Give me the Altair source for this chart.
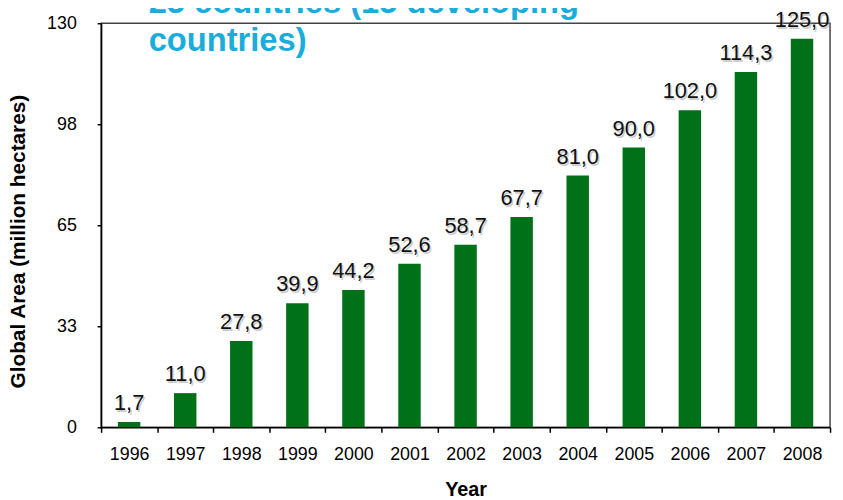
import altair as alt
import pandas as pd

years = ["1996", "1997", "1998", "1999", "2000", "2001", "2002",
         "2003", "2004", "2005", "2006", "2007", "2008"]
areas = [1.7, 11.0, 27.8, 39.9, 44.2, 52.6, 58.7, 67.7, 81.0, 90.0, 102.0, 114.3, 125.0]
y_ticks = [0, 32.5, 65, 97.5, 130]
title_lines = ["25 countries (15 developing", "countries)"]

df = pd.DataFrame({"year": years, "area": areas})

FONT = "Liberation Sans"

x = alt.X("year:N", sort=years, title="Year",
          scale=alt.Scale(paddingInner=0, paddingOuter=0),
          axis=alt.Axis(labelAngle=0, tickBand="extent", tickSize=5, labelPadding=14,
                        labelFontSize=18, labelColor="#000", labelFont=FONT,
                        titleFontSize=20, titleFont=FONT, titleFontWeight="bold",
                        titleY=69, titleBaseline="alphabetic",
                        domainColor="#000", tickColor="#000",
                        domainWidth=1.5, tickWidth=1.5))
y = alt.Y("area:Q", title="Global Area (million hectares)",
          scale=alt.Scale(domain=[0, 130], nice=False),
          axis=alt.Axis(values=y_ticks, format=".0f", grid=False, tickSize=4, labelPadding=21,
                        labelFontSize=18, labelColor="#000", labelFont=FONT,
                        titleFontSize=21, titleFont=FONT, titleFontWeight="bold",
                        titleX=-83, titleY=220, titleAlign="center", titleBaseline="middle",
                        domainColor="#000", tickColor="#000", domainWidth=1.5, tickWidth=1.5))

base = alt.Chart(df).transform_calculate(
    label="replace(format(datum.area, '.1f'), '.', ',')"
)

bars = base.mark_bar(color="#007019", width=alt.RelativeBandSize(0.4)).encode(x=x, y=y)
shadow = base.mark_text(baseline="alphabetic", dy=-10, dx=1.5, fontSize=22,
                        font=FONT, color="#9a9a9a", opacity=0.5).encode(
    x=x, y=y, text="label:N")
labels = base.mark_text(baseline="alphabetic", dy=-12, fontSize=22,
                        font=FONT, color="#111").encode(
    x=x, y=y, text="label:N")

chart = alt.layer(bars, shadow, labels).properties(
    width=736, height=408,
    title=alt.TitleParams(text=title_lines, orient="top", anchor="start", frame="group",
                          dx=48, offset=-75, baseline="alphabetic", fontSize=33,
                          lineHeight=38, font=FONT, fontWeight="bold",
                          color="#18ADDB"),
    autosize=alt.AutoSizeParams(type="none"),
    padding={"left": 94, "top": 13, "right": 5, "bottom": 70},
).configure_view(stroke="#444", strokeWidth=1.5)

chart.save("out.html", embed_options={"renderer": "svg", "actions": False})
